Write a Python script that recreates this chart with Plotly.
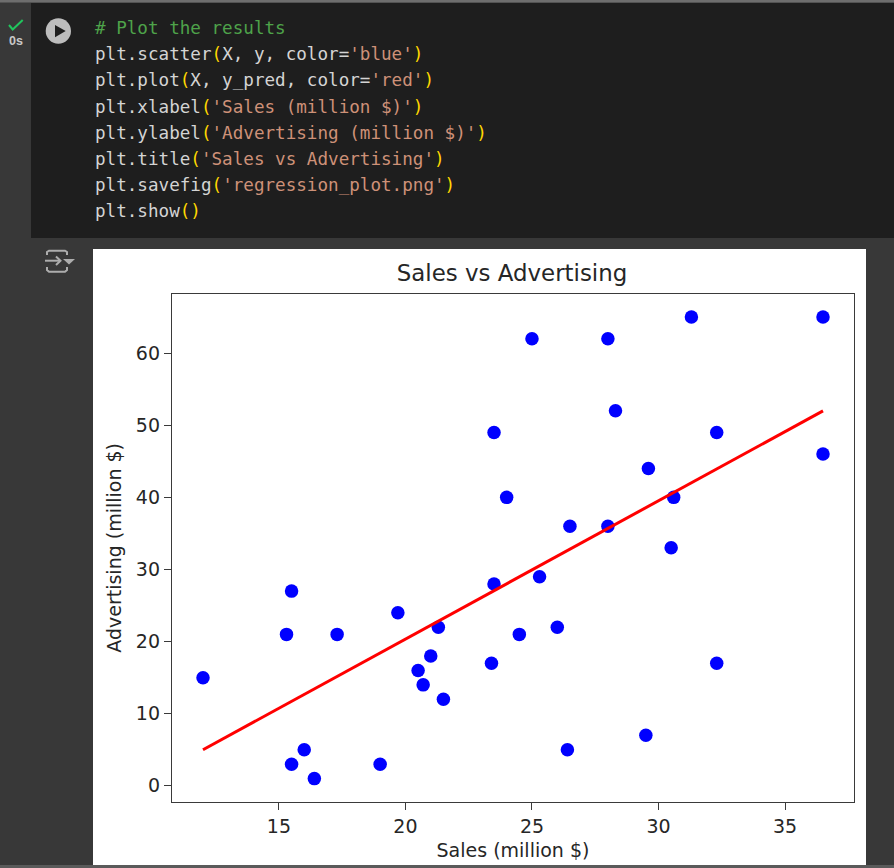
import plotly.graph_objects as go

W, H = 894, 868

sales = [12, 15.3, 15.5, 15.5, 16, 16.4, 17.3, 19, 19.7, 20.5, 20.7, 21, 21.3, 21.5, 23.4, 23.5, 23.5, 24,
         24.5, 25, 25.3, 26, 26.4, 26.5, 28, 28, 28.3, 29.5, 29.6, 30.5, 30.6, 31.3, 32.3, 32.3, 36.5, 36.5]
advertising = [15, 21, 27, 3, 5, 1, 21, 3, 24, 16, 14, 18, 22, 12, 17, 28, 49, 40,
               21, 62, 29, 22, 5, 36, 36, 62, 52, 7, 44, 33, 40, 65, 17, 49, 46, 65]
fit_sales = [12, 36.5]
fit_advertising = [5, 52]
x_ticks = [15, 20, 25, 30, 35]
y_ticks = [0, 10, 20, 30, 40, 50, 60]

C, P, S, B = "#4ea34a", "#d4d4d4", "#ce9178", "#ffd700"


def span(color, text):
    return f'<span style="color:{color}">{text}</span>'


code_lines = [
    span(C, "# Plot the results"),
    span(P, "plt.scatter") + span(B, "(") + span(P, "X, y, color=") + span(S, "'blue'") + span(B, ")"),
    span(P, "plt.plot") + span(B, "(") + span(P, "X, y_pred, color=") + span(S, "'red'") + span(B, ")"),
    span(P, "plt.xlabel") + span(B, "(") + span(S, "'Sales (million $)'") + span(B, ")"),
    span(P, "plt.ylabel") + span(B, "(") + span(S, "'Advertising (million $)'") + span(B, ")"),
    span(P, "plt.title") + span(B, "(") + span(S, "'Sales vs Advertising'") + span(B, ")"),
    span(P, "plt.savefig") + span(B, "(") + span(S, "'regression_plot.png'") + span(B, ")"),
    span(P, "plt.show") + span(B, "()"),
]
code_y = [28, 54, 80, 107, 133, 159, 185, 211]


def px(x):
    return x / W


def py(y):
    return 1 - y / H


def rect(x0, y0, x1, y1, color):
    return dict(type="rect", xref="paper", yref="paper", x0=px(x0), x1=px(x1), y0=py(y0), y1=py(y1),
                fillcolor=color, line_width=0, layer="below")


def poly(points, fill=None, line=None, width=0):
    d = "M " + " L ".join(f"{px(a):.5f},{py(b):.5f}" for a, b in points)
    if fill:
        d += " Z"
    return dict(type="path", xref="paper", yref="paper", path=d, fillcolor=fill or "rgba(0,0,0,0)",
                line=dict(color=line or "rgba(0,0,0,0)", width=width), layer="below")


ICON = "#adadad"
shapes = [
    rect(0, 0, W, 2.5, "#6e6e6e"),
    rect(31, 3, W, 238, "#1e1e1e"),
    rect(93, 249, 866, 865, "#ffffff"),
    rect(0, 865, W, H, "#5a5a5a"),
    dict(type="circle", xref="paper", yref="paper", x0=px(45.7), x1=px(71), y0=py(18.3), y1=py(43.7),
         fillcolor="#bdbdbd", line_width=0, layer="below"),
    poly([(55, 25), (55, 37.3), (65.7, 31)], fill="#1e1e1e"),
    poly([(9, 25), (12.7, 29.5), (22.7, 20)], line="#21c45d", width=2),
    poly([(47, 255), (47, 252), (49, 250.7), (65, 250.7), (67, 252), (67, 255)], line=ICON, width=2),
    poly([(47, 267), (47, 270), (49, 271.7), (65, 271.7), (67, 270), (67, 267)], line=ICON, width=2),
    poly([(45, 260.7), (60, 260.7)], line=ICON, width=2),
    poly([(56, 256.5), (60.5, 260.7), (56, 265)], line=ICON, width=2),
    poly([(63, 259), (75, 259), (69, 264.5)], fill=ICON),
]

annotations = [
    dict(x=px(94), y=py(yy), xref="paper", yref="paper", xanchor="left", yanchor="middle", text=t, showarrow=False,
         borderpad=0, font=dict(family="DejaVu Sans Mono", size=17.6, color=P), align="left")
    for t, yy in zip(code_lines, code_y)
]
annotations.append(dict(x=px(16), y=py(41.5), xref="paper", yref="paper", xanchor="center", yanchor="middle",
                        text="<b>0s</b>", showarrow=False, borderpad=0,
                        font=dict(family="Liberation Sans", size=12.5, color="#c8c8c8")))

axis_common = dict(showgrid=False, zeroline=False, showline=True, linecolor="#3a3a3a", linewidth=1.4, mirror=True,
                   ticks="outside", ticklen=7, tickwidth=1.3, tickcolor="#3a3a3a", automargin=False,
                   tickfont=dict(family="DejaVu Sans", size=19, color="#262626"))

fig = go.Figure()
fig.add_trace(go.Scatter(x=sales, y=advertising, mode="markers", marker=dict(color="#0000ff", size=13.5, line_width=0),
                         showlegend=False))
fig.add_trace(go.Scatter(x=fit_sales, y=fit_advertising, mode="lines", line=dict(color="#ff0000", width=3),
                         showlegend=False))

fig.update_layout(
    width=W, height=H, margin=dict(l=0, r=0, t=0, b=0, pad=0),
    paper_bgcolor="#383838", plot_bgcolor="#ffffff",
    shapes=shapes, annotations=annotations,
    title=dict(text="Sales vs Advertising", x=512 / W, y=py(273), xanchor="center", yanchor="middle",
               font=dict(family="DejaVu Sans", size=22.9, color="#262626")),
    xaxis=dict(domain=[px(172), px(854)], range=[10.775, 37.725], tickvals=x_ticks,
               title=dict(text="Sales (million $)", standoff=7, font=dict(family="DejaVu Sans", size=19, color="#262626")),
               **axis_common),
    yaxis=dict(domain=[py(801.7), py(294)], range=[-2.2, 68.2], tickvals=y_ticks,
               title=dict(text="Advertising (million $)", standoff=9, font=dict(family="DejaVu Sans", size=19, color="#262626")),
               **axis_common),
)
fig.write_html("out.html", config={"displayModeBar": False}, post_script="document.body.style.margin='0';")
